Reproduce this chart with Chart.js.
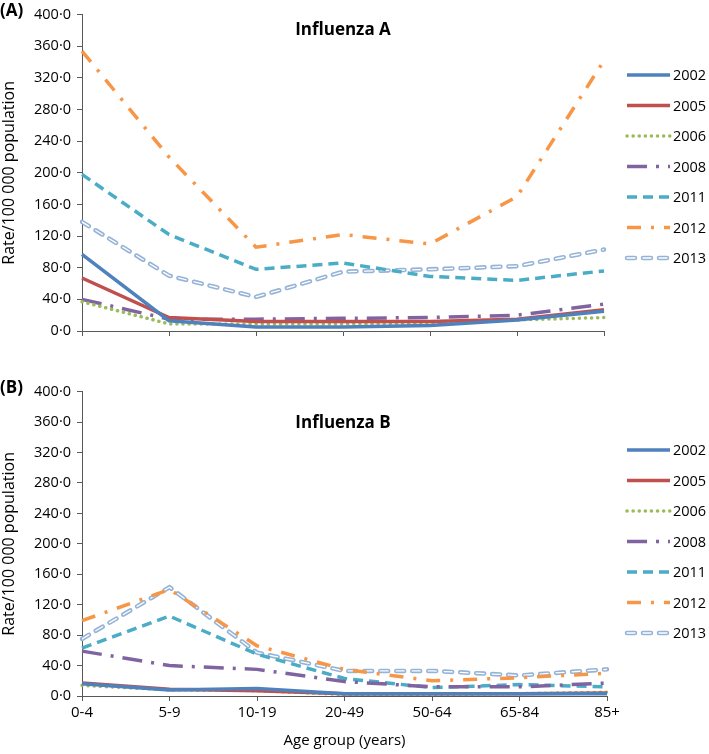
<!DOCTYPE html>
<html>
<head>
<meta charset="utf-8">
<script src="https://cdn.jsdelivr.net/npm/chart.js@4.4.1/dist/chart.umd.min.js"></script>
<style>
  body { margin: 0; background: #fff; }
  .panel { position: absolute; left: 0; width: 709px; height: 377px; }
</style>
</head>
<body>
<div class="panel" style="top:0"><canvas id="chartA" width="709" height="377"></canvas></div>
<div class="panel" style="top:377px"><canvas id="chartB" width="709" height="377"></canvas></div>
<script>
const ageGroups = ["0-4", "5-9", "10-19", "20-49", "50-64", "65-84", "85+"];
const years = ["2002", "2005", "2006", "2008", "2011", "2012", "2013"];
const yTicks = [0, 40, 80, 120, 160, 200, 240, 280, 320, 360, 400];

// Influenza A, rate per 100 000
const fluA2002 = [97, 13, 5, 5, 7, 14, 25];
const fluA2005 = [67, 17, 12, 12, 12, 15, 27];
const fluA2006 = [37, 9, 9, 9, 10, 14, 17];
const fluA2008 = [40, 15, 15, 16, 17, 20, 34];
const fluA2011 = [198, 122, 78, 86, 69, 64, 76];
const fluA2012 = [354, 220, 106, 122, 110, 170, 342];
const fluA2013 = [138, 70, 43, 75, 78, 82, 103];

// Influenza B, rate per 100 000
const fluB2002 = [16, 8, 10, 3, 3, 3, 3];
const fluB2005 = [17, 9, 7, 3, 3, 3, 4];
const fluB2006 = [14, 8, 7, 2, 2, 3, 5];
const fluB2008 = [59, 40, 35, 19, 12, 12, 17];
const fluB2011 = [63, 105, 55, 23, 11, 15, 12];
const fluB2012 = [99, 140, 66, 35, 20, 24, 30];
const fluB2013 = [75, 143, 57, 33, 33, 27, 35];

// line look for each year (Excel style)
const estilos = [
  { color: "#4F81BD", width: 3.5, dash: [], cap: "butt" },
  { color: "#C0504D", width: 3.5, dash: [], cap: "butt" },
  { color: "#9BBB59", width: 3.5, dash: [0.1, 6], cap: "round" },
  { color: "#8064A2", width: 3.5, dash: [20, 9, 3, 9], cap: "butt" },
  { color: "#4BACC6", width: 3.5, dash: [10, 6], cap: "butt" },
  { color: "#F79646", width: 3.5, dash: [14, 10, 3, 10], cap: "butt" },
  { color: "#95B3D7", width: 4.5, dash: [8, 8], cap: "round", hollow: true },
];

const fmt = (v) => v.toFixed(1).replace(".", "·");
const FONT = "'Open Sans', sans-serif";
const AXIS = "#595959";

function dibujarHueco(ctx, pts, est) {
  // white core drawn over the line to get the double-line look
  ctx.save();
  ctx.setLineDash(est.dash);
  ctx.lineCap = est.cap;
  ctx.lineWidth = 1.3;
  ctx.strokeStyle = "#fff";
  ctx.beginPath();
  pts.forEach((p, i) => (i === 0 ? ctx.moveTo(p.x, p.y) : ctx.lineTo(p.x, p.y)));
  ctx.stroke();
  ctx.restore();
}

const extras = {
  id: "extras",
  afterDatasetDraw(chart, args) {
    const est = estilos[args.index];
    if (!est.hollow) return;
    const ctx = chart.ctx;
    ctx.save();
    const a = chart.chartArea;
    ctx.beginPath();
    ctx.rect(a.left, a.top - 3, a.right - a.left, a.bottom - a.top + 3);
    ctx.clip();
    dibujarHueco(ctx, args.meta.data.map((p) => ({ x: p.x, y: p.y })), est);
    ctx.restore();
  },
  afterDraw(chart) {
    const o = chart.options.plugins.extras;
    const ctx = chart.ctx;
    ctx.save();
    ctx.fillStyle = "#000";
    ctx.textBaseline = "middle";
    ctx.font = "bold 17px " + FONT;
    ctx.textAlign = "left";
    ctx.fillText(o.panel, 0, 11);
    ctx.textAlign = "center";
    ctx.fillText(o.title, 343, o.titleY);
    // legend
    ctx.font = "14.5px " + FONT;
    ctx.textAlign = "left";
    chart.data.datasets.forEach((ds, i) => {
      const est = estilos[i];
      const y = o.legendY + i * 30.5;
      ctx.save();
      ctx.setLineDash(est.dash);
      ctx.lineCap = est.cap;
      ctx.lineWidth = est.width;
      ctx.strokeStyle = est.color;
      ctx.beginPath();
      ctx.moveTo(627, y);
      ctx.lineTo(670, y);
      ctx.stroke();
      ctx.restore();
      if (est.hollow) dibujarHueco(ctx, [{ x: 627, y }, { x: 670, y }], est);
      ctx.fillStyle = "#000";
      ctx.fillText(ds.label, 673, y + 1);
    });
    ctx.restore();
  },
};

function crearGrafico(id, series, opts) {
  const datasets = series.map((vals, i) => ({
    label: years[i],
    data: vals,
    borderColor: estilos[i].color,
    borderWidth: estilos[i].width,
    borderDash: estilos[i].dash,
    borderCapStyle: estilos[i].cap,
    pointRadius: 0,
    tension: 0,
    fill: false,
  }));
  return new Chart(document.getElementById(id), {
    type: "line",
    data: { labels: ageGroups, datasets },
    plugins: [extras],
    options: {
      responsive: false,
      animation: false,
      layout: { padding: { top: 10, right: opts.right, left: 0, bottom: 0 } },
      plugins: {
        legend: { display: false },
        tooltip: { enabled: false },
        extras: opts.extras,
      },
      scales: {
        x: {
          offset: false,
          grid: { display: true, drawOnChartArea: false, drawTicks: true, tickLength: 5, color: AXIS },
          border: { color: AXIS, width: 1 },
          ticks: {
            display: opts.showX,
            color: "#000",
            font: { family: FONT, size: 15 },
            padding: 3,
            maxRotation: 0,
          },
          title: {
            display: opts.showX,
            text: "Age group (years)",
            color: "#000",
            font: { family: FONT, size: 15 },
            padding: { top: 2 },
          },
          afterFit: (s) => { s.height = opts.xHeight; },
        },
        y: {
          min: 0,
          max: 400,
          afterBuildTicks: (s) => { s.ticks = yTicks.map((v) => ({ value: v })); },
          grid: { display: true, drawOnChartArea: false, drawTicks: true, tickLength: 5, color: AXIS },
          border: { color: AXIS, width: 1 },
          ticks: {
            color: "#000",
            font: { family: FONT, size: 14.5 },
            padding: 6,
            callback: (v) => fmt(v),
          },
          title: {
            display: true,
            text: "Rate/100 000 population",
            color: "#000",
            font: { family: FONT, size: 16 },
            padding: 0,
          },
          afterFit: (s) => { s.width = 82; },
        },
      },
    },
  });
}

crearGrafico("chartA", [fluA2002, fluA2005, fluA2006, fluA2008, fluA2011, fluA2012, fluA2013], {
  right: 105,
  xHeight: 46,
  showX: false,
  extras: { panel: "(A)", title: "Influenza A", titleY: 30, legendY: 75 },
});

crearGrafico("chartB", [fluB2002, fluB2005, fluB2006, fluB2008, fluB2011, fluB2012, fluB2013], {
  right: 102,
  xHeight: 58,
  showX: true,
  extras: { panel: "(B)", title: "Influenza B", titleY: 46, legendY: 73 },
});
</script>
</body>
</html>
